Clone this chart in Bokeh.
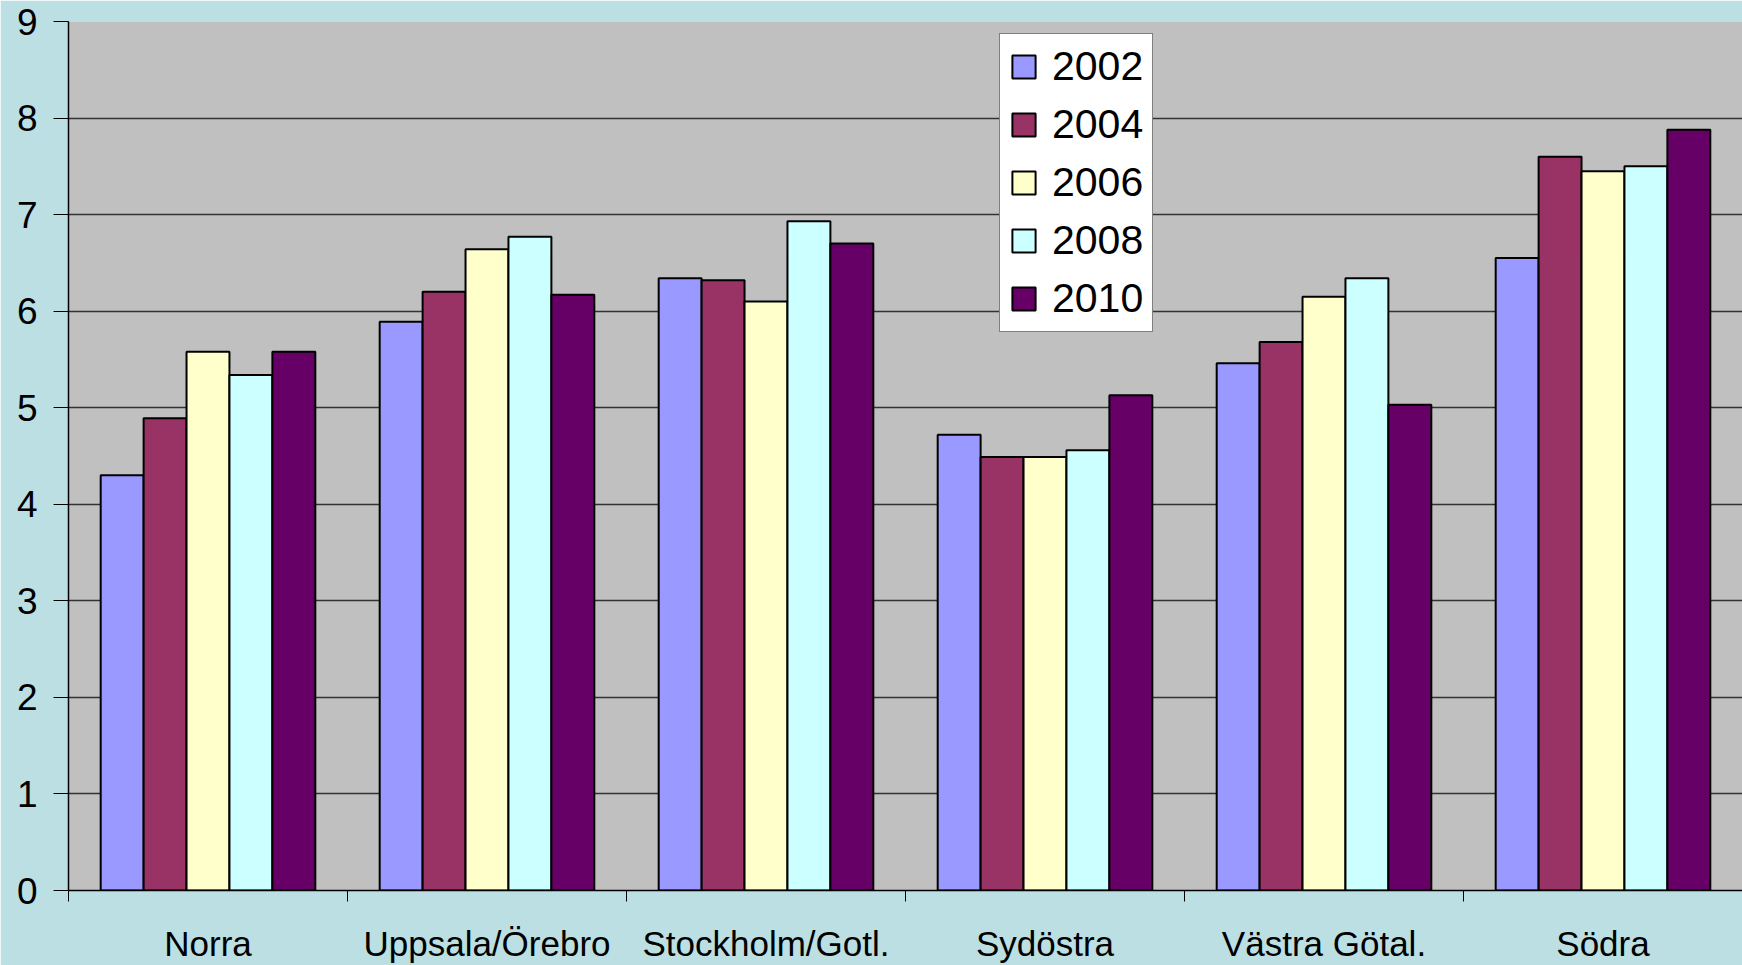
from bokeh.plotting import figure
from bokeh.models import ColumnDataSource, FixedTicker, Legend, LegendItem
from bokeh.transform import dodge
from bokeh.embed import file_html
from bokeh.resources import INLINE

regions = ["Norra", "Uppsala/Örebro", "Stockholm/Gotl.", "Sydöstra", "Västra Götal.", "Södra"]
years = ["2002", "2004", "2006", "2008", "2010"]
v2002 = [4.30, 5.89, 6.34, 4.72, 5.46, 6.55]
v2004 = [4.89, 6.20, 6.32, 4.49, 5.68, 7.60]
v2006 = [5.58, 6.64, 6.10, 4.49, 6.15, 7.45]
v2008 = [5.34, 6.77, 6.93, 4.56, 6.34, 7.50]
v2010 = [5.58, 6.17, 6.70, 5.13, 5.03, 7.88]
colors = ["#9999FF", "#993366", "#FFFFCC", "#CCFFFF", "#660066"]
y_ticks = [0, 1, 2, 3, 4, 5, 6, 7, 8, 9]

series = [v2002, v2004, v2006, v2008, v2010]
centers = [i + 0.5 for i in range(len(regions))]
data = {"x": centers}
for yr, vals in zip(years, series):
    data["y" + yr] = vals
src = ColumnDataSource(data)

FONT = "Liberation Sans"
BAR_W = 1.0 / 6.5

p = figure(width=1742, height=965, x_range=(0, 6), y_range=(0, 9),
           output_backend="svg", toolbar_location=None,
           background_fill_color="#C0C0C0", border_fill_color="#BBDFE3",
           min_border_left=68, min_border_right=0, min_border_top=21, min_border_bottom=74)
p.outline_line_color = None

items = []
for k, (yr, col) in enumerate(zip(years, colors)):
    off = (k - 2) * BAR_W
    r = p.vbar(x=dodge("x", off), top="y" + yr, width=BAR_W, source=src,
               fill_color=col, line_color="black", line_width=2)
    items.append(LegendItem(label=yr, renderers=[r]))

# x axis: labels at group centres, ticks at group boundaries
xa = p.xaxis[0]
xa.ticker = FixedTicker(ticks=centers, minor_ticks=list(range(len(regions) + 1)))
xa.major_label_overrides = {c: name for c, name in zip(centers, regions)}
xa.major_tick_line_color = None
xa.minor_tick_line_color = "black"
xa.minor_tick_out = 11
xa.minor_tick_in = 0
xa.minor_tick_line_width = 1
xa.axis_line_color = "black"
xa.axis_line_width = 1.5
xa.major_label_text_font = FONT
xa.major_label_text_font_size = "35px"
xa.major_label_text_color = "black"
xa.major_label_standoff = 22

ya = p.yaxis[0]
ya.ticker = FixedTicker(ticks=y_ticks)
ya.minor_tick_line_color = None
ya.major_tick_out = 15
ya.major_tick_in = 0
ya.major_tick_line_color = "black"
ya.axis_line_color = "black"
ya.axis_line_width = 1.5
ya.major_label_text_font = FONT
ya.major_label_text_font_size = "37px"
ya.major_label_text_color = "black"
ya.major_label_standoff = 16

p.xgrid.grid_line_color = None
p.ygrid.grid_line_color = "#333333"
p.ygrid.grid_line_width = 1.3

legend = Legend(items=items, location=(931, 558))
legend.label_text_font = FONT
legend.label_text_font_size = "41px"
legend.label_text_color = "black"
legend.glyph_width = 29
legend.glyph_height = 29
legend.label_height = 45
legend.label_standoff = 14
legend.spacing = 11
legend.padding = 9
legend.margin = 0
legend.border_line_color = "black"
legend.border_line_width = 1
legend.background_fill_color = "white"
legend.background_fill_alpha = 1
p.add_layout(legend, "center")

open("out.html", "w").write(file_html(p, INLINE))
